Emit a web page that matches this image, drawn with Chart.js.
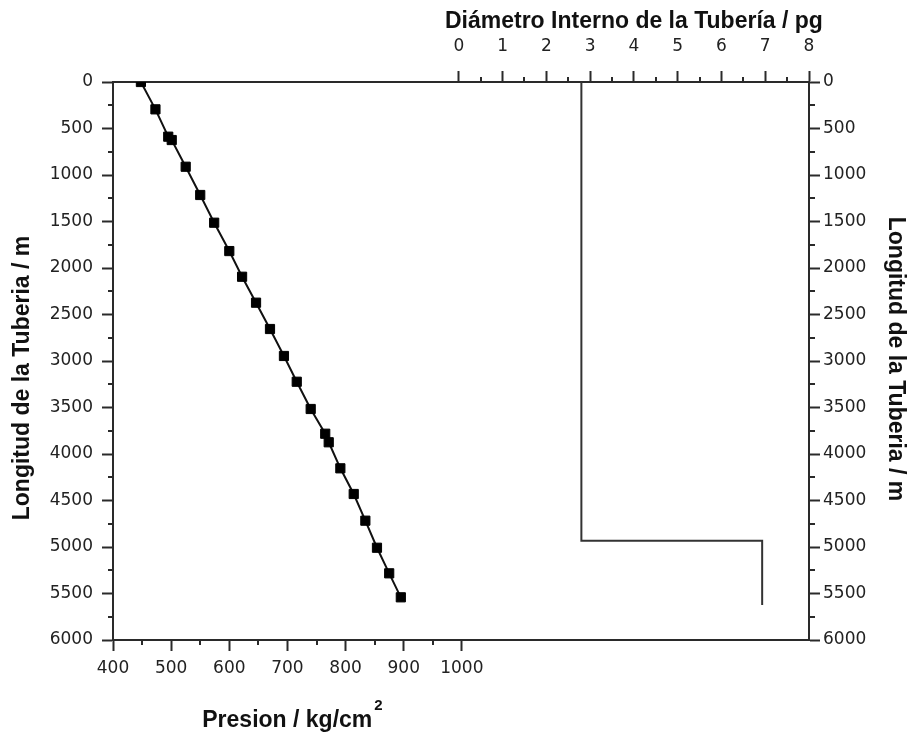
<!DOCTYPE html>
<html>
<head>
<meta charset="utf-8">
<script src="https://cdn.jsdelivr.net/npm/chart.js@4"></script>
<style>
  html, body { margin: 0; padding: 0; background: #fff; }
</style>
</head>
<body>
<canvas id="grafico" width="912" height="733"></canvas>
<script>
// Presion vs longitud
const presion = [448, 473, 495, 501, 525, 550, 574, 600, 622, 646, 670, 694, 716, 740, 765, 771, 791, 814, 834, 854, 875, 895];
const longitud = [0, 294, 588, 624, 911, 1215, 1513, 1818, 2094, 2373, 2656, 2946, 3223, 3516, 3782, 3874, 4154, 4430, 4717, 5008, 5283, 5541];

// Diametro interno de la tuberia (escalon)
const diametro = [2.8, 2.8, 6.93, 6.93];
const diamLongitud = [0, 4932, 4932, 5624];

// Etiquetas de los ejes
const ticksPresion = [400, 500, 600, 700, 800, 900, 1000];
const ticksDiametro = [0, 1, 2, 3, 4, 5, 6, 7, 8];
const ticksLongitud = [0, 500, 1000, 1500, 2000, 2500, 3000, 3500, 4000, 4500, 5000, 5500, 6000];

const corEixo = '#2a2a2a';
const fonteTicks = { family: 'DejaVu Sans', size: 17 };
const fonteTitulo = 'bold 23px "Liberation Sans", Arial, sans-serif';

function minores(lista) {
  const out = [];
  for (let i = 0; i < lista.length - 1; i++) out.push((lista[i] + lista[i + 1]) / 2);
  return out;
}

function eixo(pos, min, max, ticks, padding, tamanho, extra) {
  const horizontal = pos === 'top' || pos === 'bottom';
  return Object.assign({
    type: 'linear',
    position: pos,
    min: min,
    max: max,
    afterBuildTicks: s => { s.ticks = ticks.map(v => ({ value: v })); },
    afterFit: s => { if (horizontal) s.height = tamanho; else s.width = tamanho; },
    grid: { drawOnChartArea: false, drawTicks: true, tickLength: 11, tickColor: corEixo, tickWidth: 2 },
    border: { display: true, color: corEixo, width: 2 },
    ticks: { font: fonteTicks, color: '#222', padding: padding, maxRotation: 0, autoSkip: false, callback: v => String(v) }
  }, extra || {});
}

const extras = {
  id: 'extras',
  afterDraw(chart) {
    const ctx = chart.ctx;
    const { x, x2, y, y2 } = chart.scales;
    const a = chart.chartArea;
    ctx.save();
    // ticks menores
    ctx.strokeStyle = corEixo;
    ctx.lineWidth = 2;
    ctx.beginPath();
    minores(ticksPresion).forEach(v => {
      const p = Math.round(x.getPixelForValue(v));
      ctx.moveTo(p, a.bottom); ctx.lineTo(p, a.bottom + 5);
    });
    minores(ticksDiametro).forEach(v => {
      const p = Math.round(x2.getPixelForValue(v));
      ctx.moveTo(p, a.top); ctx.lineTo(p, a.top - 5);
    });
    minores(ticksLongitud).forEach(v => {
      const p = Math.round(y.getPixelForValue(v));
      ctx.moveTo(a.left, p); ctx.lineTo(a.left - 5, p);
      ctx.moveTo(a.right, p); ctx.lineTo(a.right + 6, p);
    });
    ctx.stroke();

    // titulos
    ctx.fillStyle = '#111';
    ctx.font = fonteTitulo;
    ctx.textBaseline = 'alphabetic';
    ctx.textAlign = 'center';
    const cxTop = (x2.getPixelForValue(0) + x2.getPixelForValue(8)) / 2;
    ctx.fillText('Diámetro Interno de la Tubería / pg', cxTop, 28);

    const principal = 'Presion / kg/cm';
    const w1 = ctx.measureText(principal).width;
    ctx.font = 'bold 15px "Liberation Sans", Arial, sans-serif';
    const w2 = ctx.measureText('2').width;
    const cxBot = (x.getPixelForValue(400) + x.getPixelForValue(1000)) / 2 + 5;
    const x0 = cxBot - (w1 + w2 + 2) / 2;
    ctx.textAlign = 'left';
    ctx.fillText('2', x0 + w1 + 2, 710);
    ctx.font = fonteTitulo;
    ctx.fillText(principal, x0, 727);

    ctx.textAlign = 'center';
    ctx.textBaseline = 'middle';
    const cy = (a.top + a.bottom) / 2;
    ctx.save();
    ctx.translate(23, cy + 17);
    ctx.rotate(-Math.PI / 2);
    ctx.fillText('Longitud de la Tuberia / m', 0, 0);
    ctx.restore();
    ctx.save();
    ctx.translate(895, cy - 2);
    ctx.rotate(Math.PI / 2);
    ctx.fillText('Longitud de la Tuberia / m', 0, 0);
    ctx.restore();
    ctx.restore();
  }
};

new Chart(document.getElementById('grafico'), {
  type: 'scatter',
  data: {
    datasets: [
      {
        label: 'Presion',
        data: presion.map((p, i) => ({ x: p, y: longitud[i] })),
        xAxisID: 'x', yAxisID: 'y',
        showLine: true,
        borderColor: '#111',
        borderWidth: 2,
        pointStyle: 'rect',
        pointRadius: 6.5,
        pointBackgroundColor: '#000',
        pointBorderColor: '#000',
        pointBorderWidth: 1
      },
      {
        label: 'Diametro',
        data: diametro.map((d, i) => ({ x: d, y: diamLongitud[i] })),
        xAxisID: 'x2', yAxisID: 'y',
        showLine: true,
        borderColor: '#333',
        borderWidth: 2,
        pointRadius: 0
      }
    ]
  },
  options: {
    responsive: false,
    animation: false,
    layout: { padding: 0 },
    plugins: { legend: { display: false }, tooltip: { enabled: false } },
    scales: {
      x: eixo('bottom', 400, 1597, ticksPresion, 7, 93),
      x2: eixo('top', -7.9, 8, ticksDiametro, 14, 82),
      y: eixo('left', 0, 6000, ticksLongitud, 9, 113, { reverse: true }),
      y2: eixo('right', 0, 6000, ticksLongitud, 3, 103, { reverse: true })
    }
  },
  plugins: [extras]
});
</script>
</body>
</html>
